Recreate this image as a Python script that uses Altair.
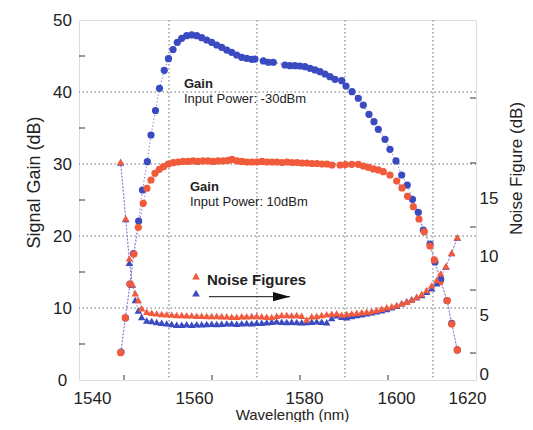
import altair as alt
import pandas as pd

# ---------------- data ----------------
# Gain, input power -30 dBm (blue circles)
wl_gain_small = [1546.19, 1547.15, 1548.11, 1548.85, 1549.96, 1550.77, 1551.80, 1552.59, 1553.55, 1554.40,
                 1555.42, 1556.32, 1557.28, 1558.20, 1559.14, 1560.20, 1561.27, 1562.34, 1563.40, 1564.47,
                 1565.54, 1566.60, 1567.67, 1568.74, 1569.80, 1570.87, 1571.94, 1573.00, 1574.07, 1574.77,
                 1576.55, 1577.61, 1578.68, 1581.17, 1582.24, 1583.31, 1584.37, 1585.44, 1586.51, 1587.57,
                 1588.64, 1589.71, 1590.77, 1591.84, 1593.27, 1594.19, 1595.47, 1596.81, 1597.88, 1599.09,
                 1600.16, 1601.08, 1602.51, 1603.57, 1604.85, 1606.07, 1607.26, 1608.37, 1609.61, 1610.68,
                 1612.11, 1613.17, 1614.39, 1615.73, 1616.74, 1617.93]
gain_small = [3.89, 8.61, 13.33, 17.57, 22.08, 26.39, 30.32, 34.03, 37.43, 40.51,
              43.01, 44.63, 45.90, 46.90, 47.46, 47.82, 47.92, 47.82, 47.54, 47.22,
              46.90, 46.53, 46.21, 45.83, 45.51, 45.14, 44.82, 44.68, 44.54, 44.58,
              44.31, 44.13, 44.13, 43.75, 43.65, 43.65, 43.61, 43.51, 43.29, 43.06,
              42.82, 42.50, 42.13, 41.76, 41.57, 40.83, 40.04, 39.13, 38.19, 36.90,
              35.88, 34.82, 33.43, 32.04, 30.42, 28.47, 27.08, 25.10, 23.29, 20.83,
              18.89, 16.39, 14.03, 11.04, 7.85, 4.17]

# Gain, input power 10 dBm (red circles)
wl_gain_large = [1546.12, 1547.10, 1548.11, 1548.96, 1549.88, 1550.94, 1551.73, 1552.59, 1553.44, 1554.36,
                 1555.25, 1556.28, 1557.34, 1558.35, 1559.41, 1560.48, 1561.55, 1562.61, 1563.68, 1564.75,
                 1565.81, 1566.88, 1567.95, 1569.01, 1569.87, 1570.93, 1572.00, 1573.07, 1574.13, 1575.20,
                 1576.27, 1577.33, 1578.40, 1579.47, 1580.53, 1581.60, 1582.67, 1583.73, 1584.80, 1585.87,
                 1586.93, 1588.00, 1589.07, 1590.13, 1591.20, 1592.91, 1594.08, 1595.40, 1596.81, 1597.88,
                 1598.94, 1600.01, 1601.08, 1602.14, 1603.57, 1605.00, 1606.13, 1607.31, 1608.55, 1609.76,
                 1610.89, 1612.11, 1613.02, 1614.24, 1615.80, 1616.74, 1617.93]
gain_large = [3.79, 8.65, 13.33, 17.50, 21.21, 24.54, 26.63, 27.78, 28.71, 29.26,
              29.63, 30.00, 30.18, 30.28, 30.35, 30.35, 30.42, 30.35, 30.42, 30.42,
              30.35, 30.42, 30.42, 30.49, 30.63, 30.42, 30.35, 30.28, 30.28, 30.28,
              30.35, 30.28, 30.28, 30.28, 30.21, 30.28, 30.21, 30.21, 30.14, 30.14,
              30.07, 30.07, 30.00, 30.00, 29.86, 29.86, 29.93, 29.96, 29.96, 29.72,
              29.54, 29.31, 29.17, 28.93, 28.47, 27.64, 26.67, 25.51, 24.07, 22.36,
              20.60, 18.61, 16.67, 13.65, 11.01, 7.78, 4.17]

# Noise figures (triangles)
wl_nf = [1546.12, 1547.19, 1547.96, 1548.60, 1549.24, 1549.88, 1550.60, 1551.67,
         1552.74, 1553.80, 1554.87, 1555.94, 1557.00, 1558.07, 1559.14, 1560.20, 1561.27, 1562.34,
         1563.40, 1564.47, 1565.54, 1566.60, 1567.67, 1568.74, 1569.80, 1570.87, 1571.94, 1573.00,
         1574.07, 1575.14, 1576.20, 1577.27, 1578.34, 1579.40, 1580.47, 1581.54, 1582.60, 1583.67,
         1584.74, 1585.80, 1586.87, 1587.94, 1589.00, 1590.07, 1591.14, 1592.20, 1593.27, 1594.34,
         1595.40, 1596.47, 1597.54, 1598.60, 1599.67, 1600.74, 1601.80, 1602.87, 1603.94, 1605.00,
         1606.07, 1607.14, 1608.20, 1609.27, 1610.34, 1611.40, 1612.47, 1613.54,
         1614.39, 1615.52, 1616.74, 1617.93]
nf_red = [18.10, 13.27, 9.86, 7.67, 6.88, 6.31, 5.60, 5.31,
          5.23, 5.17, 5.12, 5.09, 5.06, 5.03, 5.03, 5.00, 5.00, 4.97,
          4.97, 4.94, 4.94, 4.94, 4.92, 4.92, 4.88, 4.88, 4.92, 4.92,
          4.94, 4.94, 4.92, 4.88, 4.86, 4.97, 5.03, 5.03, 5.00, 5.03,
          4.97, 4.65, 4.92, 4.94, 5.03, 5.09, 5.14, 5.17, 5.06, 5.14,
          5.17, 5.23, 5.26, 5.31, 5.37, 5.46, 5.57, 5.69, 5.77, 5.88,
          6.03, 6.16, 6.33, 6.59, 6.82, 7.16, 7.56, 8.01,
          8.58, 9.21, 10.34, 11.65]
nf_blue = [18.03, 13.21, 9.49, 7.63, 6.31, 5.41, 4.86, 4.56,
           4.52, 4.43, 4.37, 4.32, 4.26, 4.20, 4.20, 4.24, 4.20, 4.24,
           4.24, 4.26, 4.29, 4.26, 4.29, 4.32, 4.32, 4.29, 4.32, 4.35,
           4.32, 4.37, 4.37, 4.41, 4.46, 4.49, 4.46, 4.43, 4.46, 4.43,
           4.41, 4.43, 4.46, 4.49, 4.46, 4.41, 4.77, 5.00, 4.88, 4.83,
           4.94, 5.03, 5.09, 5.17, 5.26, 5.35, 5.43, 5.54, 5.69, 5.82,
           6.03, 6.20, 6.37, 6.54, 6.73, 7.02, 7.31, 7.73,
           8.16, 9.16, 10.32, 11.64]

# axes / ticks
x_tick_pos = [1540, 1561.76, 1585.23, 1604.85, 1620]
x_tick_labels = ["1540", "1560", "1580", "1600", "1620"]
x_grid = [1556.43, 1575.20, 1593.97, 1612.75]
x_minor = [1546.83, 1565.60, 1584.37, 1603.15]
gain_ticks = [0, 10, 20, 30, 40, 50]
gain_grid = [10, 20, 30, 40]
gain_minor = [5, 15, 25, 35, 45]
nf_ticks = [0, 5, 10, 15]
nf_minor = [1.79, 7.16, 12.53, 17.99, 23.53]

# annotations (positions in wavelength / gain units)
ann_bold = ["Gain", "Gain", "Noise Figures"]
ann_bold_wl = [1559.63, 1560.91, 1564.53]
ann_bold_g = [40.49, 26.25, 13.19]
ann_bold_size = [13, 13, 15]
ann_text = ["Input Power: -30dBm", "Input Power: 10dBm"]
ann_text_wl = [1559.63, 1560.91]
ann_text_g = [38.47, 24.17]
legend_wl = [1562.19, 1562.19]
legend_g = [14.44, 12.08]
legend_series = ["red", "blue"]
arrow_wl = [1564.96, 1582.24]
arrow_g = 11.57
arrow_head_wl = 1580.43

# ---------------- styling ----------------
FONT = "Liberation Sans"
BLUE = "#3a4ac0"
RED = "#f15a3a"
LINE = "#8d83d2"
GRID = "#6f6f6f"
TXT = "#222222"

xs = alt.Scale(domain=[1537.23, 1621.92], nice=False, zero=False)
gs = alt.Scale(domain=[0, 50], nice=False, zero=False)
ns = alt.Scale(domain=[-0.51, 30.18], nice=False, zero=False)

label_expr = "''"
for pos, lab in reversed(list(zip(x_tick_pos, x_tick_labels))):
    label_expr = f"abs(datum.value - {pos}) < 0.5 ? '{lab}' : " + label_expr

x_axis = alt.Axis(values=x_tick_pos, labelExpr=label_expr, title="Wavelength (nm)",
                  ticks=False, domain=False, grid=False, labelFontSize=17, labelPadding=10,
                  labelFont=FONT, labelColor=TXT, labelFlush=False, titleFont=FONT, titleFontSize=15,
                  titleFontWeight="normal", titleColor=TXT, titleX=213, titleY=39.5,
                  titleBaseline="alphabetic", titleAlign="center")
g_axis = alt.Axis(values=gain_ticks, title="Signal Gain (dB)", grid=False, ticks=False, domain=False,
                  labelFontSize=17, labelAlign="center", labelPadding=17, labelFont=FONT,
                  labelColor=TXT, labelFlush=False, titleFont=FONT, titleFontSize=18,
                  titleFontWeight="normal", titleColor=TXT, titleAngle=270, titleX=-45, titleY=162,
                  titleAlign="center", titleBaseline="middle")
n_axis = alt.Axis(orient="right", values=nf_ticks, title="Noise Figure (dB)", grid=False, ticks=False,
                  domain=False, labelFontSize=17, labelAlign="left", labelPadding=3, labelFont=FONT,
                  labelColor=TXT, labelFlush=False, titleFont=FONT, titleFontSize=17,
                  titleFontWeight="normal", titleColor=TXT, titleAngle=270, titleX=40, titleY=148,
                  titleAlign="center", titleBaseline="middle")

df_gs = pd.DataFrame({"wl": wl_gain_small, "g": gain_small})
df_gl = pd.DataFrame({"wl": wl_gain_large, "g": gain_large})
df_nf = pd.DataFrame({"wl": wl_nf, "red": nf_red, "blue": nf_blue})


def X(field="wl"):
    return alt.X(f"{field}:Q", scale=xs, axis=x_axis, title="Wavelength (nm)")


def GY(field="g"):
    return alt.Y(f"{field}:Q", scale=gs, axis=g_axis, title="Signal Gain (dB)")


def NY(field):
    return alt.Y(f"{field}:Q", scale=ns, axis=n_axis, title="Noise Figure (dB)")


# grid & inward ticks
vgrid = alt.Chart(pd.DataFrame({"v": x_grid})).mark_rule(
    color=GRID, strokeDash=[1.5, 2.5], strokeWidth=1).encode(x=X("v"))
hgrid = alt.Chart(pd.DataFrame({"v": gain_grid})).mark_rule(
    color=GRID, strokeDash=[1.5, 2.5], strokeWidth=1).encode(y=GY("v"))
lticks = alt.Chart(pd.DataFrame({"v": gain_minor})).mark_rule(color="#333", strokeWidth=1).encode(
    y=GY("v"), x=alt.value(0), x2=alt.value(6))
bticks = alt.Chart(pd.DataFrame({"v": x_minor})).mark_rule(color="#333", strokeWidth=1).encode(
    x=X("v"), y=alt.value(360), y2=alt.value(355))

line_gs = alt.Chart(df_gs).mark_line(color=LINE, strokeDash=[1.5, 2], strokeWidth=1).encode(x=X(), y=GY())
line_gl = alt.Chart(df_gl).mark_line(color=LINE, strokeDash=[1.5, 2], strokeWidth=1).encode(x=X(), y=GY())
pts_gs = alt.Chart(df_gs).mark_point(shape="circle", filled=True, size=52, color=BLUE, opacity=1).encode(x=X(), y=GY())
pts_gl = alt.Chart(df_gl).mark_point(shape="circle", filled=True, size=52, color=RED, opacity=1).encode(x=X(), y=GY())

df_ab = pd.DataFrame({"t": ann_bold, "wl": ann_bold_wl, "g": ann_bold_g, "s": ann_bold_size})
txt_bold = alt.Chart(df_ab).mark_text(font=FONT, fontWeight="bold", align="left", baseline="alphabetic",
                                      color=TXT).encode(
    x=X(), y=GY(), text="t:N", size=alt.Size("s:Q", scale=None, legend=None))
df_at = pd.DataFrame({"t": ann_text, "wl": ann_text_wl, "g": ann_text_g})
txt_norm = alt.Chart(df_at).mark_text(font=FONT, fontSize=13, align="left", baseline="alphabetic",
                                      color=TXT).encode(x=X(), y=GY(), text="t:N")
df_leg = pd.DataFrame({"wl": legend_wl, "g": legend_g, "c": legend_series})
leg_tri = alt.Chart(df_leg).mark_point(shape="triangle-up", filled=True, size=60, opacity=1).encode(
    x=X(), y=GY(), color=alt.Color("c:N", scale=alt.Scale(domain=["red", "blue"], range=[RED, BLUE]), legend=None))
df_arr = pd.DataFrame({"x1": [arrow_wl[0]], "x2": [arrow_wl[1]], "g": [arrow_g], "xh": [arrow_head_wl]})
arr_line = alt.Chart(df_arr).mark_rule(color="#111", strokeWidth=1).encode(
    x=X("x1"), x2="x2:Q", y=GY())
arr_head = alt.Chart(df_arr).mark_point(shape="M-1,-0.55L1,0L-1,0.55Z", filled=True, size=289,
                                        color="#111", opacity=1).encode(x=X("xh"), y=GY())

gain_group = alt.layer(vgrid, hgrid, lticks, bticks, line_gs, line_gl, pts_gs, pts_gl,
                       txt_bold, txt_norm, leg_tri, arr_line, arr_head)

rticks = alt.Chart(pd.DataFrame({"v": nf_minor})).mark_rule(color="#333", strokeWidth=1).encode(
    y=NY("v"), x=alt.value(391), x2=alt.value(397))
line_nr = alt.Chart(df_nf).mark_line(color=LINE, strokeDash=[1.5, 2], strokeWidth=1).encode(x=X(), y=NY("red"))
line_nb = alt.Chart(df_nf).mark_line(color=LINE, strokeDash=[1.5, 2], strokeWidth=1).encode(x=X(), y=NY("blue"))
tri_b = alt.Chart(df_nf).mark_point(shape="triangle-up", filled=True, size=55, color=BLUE, opacity=1).encode(x=X(), y=NY("blue"))
tri_r = alt.Chart(df_nf).mark_point(shape="triangle-up", filled=True, size=55, color=RED, opacity=1).encode(x=X(), y=NY("red"))
nf_group = alt.layer(rticks, line_nr, line_nb, tri_b, tri_r)

chart = alt.layer(gain_group, nf_group).resolve_scale(y="independent").properties(
    width=397, height=360,
    autosize=alt.AutoSizeParams(type="none"),
    padding={"left": 71, "top": 12, "right": 49, "bottom": 42},
).configure_view(stroke="#2a2a2a", strokeWidth=1.5).configure(font=FONT)

chart.save("out.html", embed_options={"renderer": "svg", "actions": False})
